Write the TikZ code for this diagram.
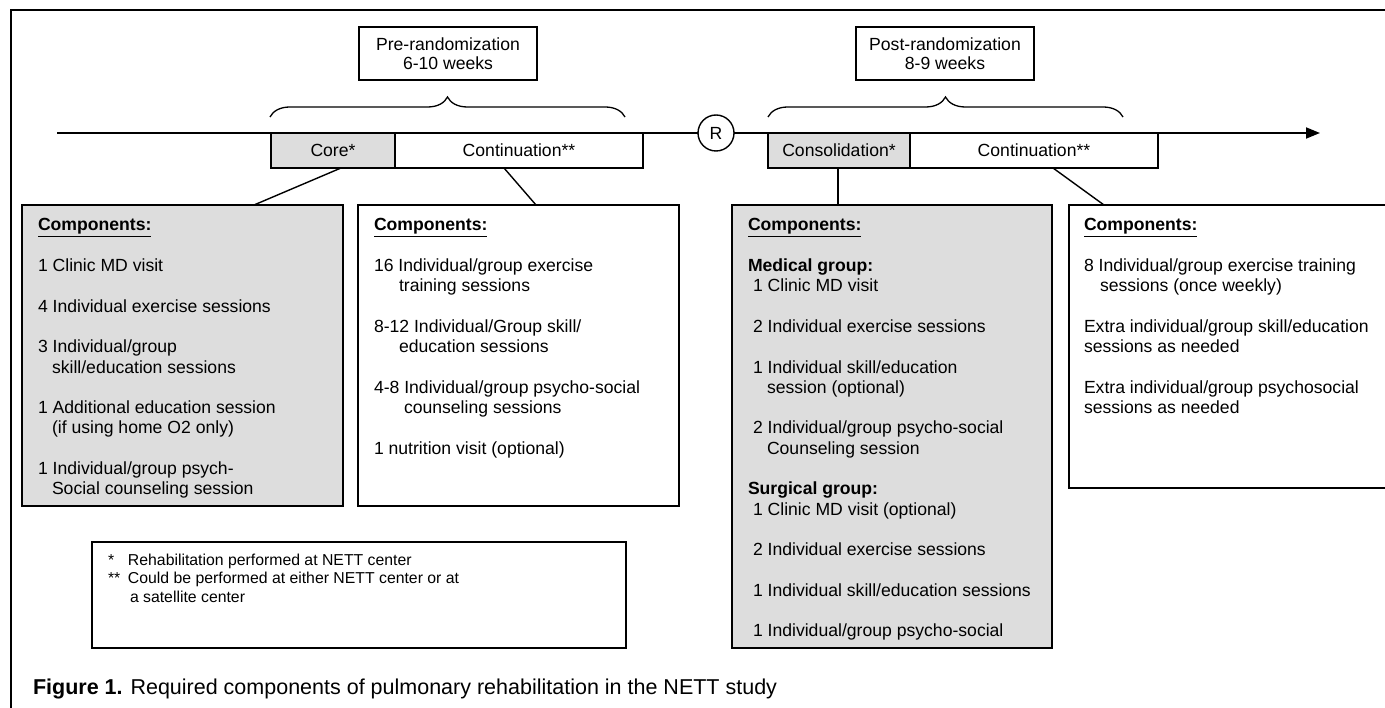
\documentclass[tikz,border=0pt]{standalone}
\usepackage{fontspec}
\setmainfont{Liberation Sans}
\usetikzlibrary{arrows.meta,decorations.pathreplacing}
\definecolor{boxgray}{RGB}{221,221,221}
\newcommand\myline[1]{\hbox{#1}}
\newcommand\blank{\hbox{}}
\newcommand\ind[2]{\hbox{\hskip#1pt #2}}
\newcommand\comphead{\myline{\underline{\textbf{Components:}}}}
\begin{document}
\begin{tikzpicture}[x=1pt,y=-1pt,
  frameline/.style={line width=2.6pt},
  tbox/.style={draw, line width=1.6pt, inner sep=0pt, outer sep=0pt, anchor=north west,
    font=\fontsize{17.6}{19.5}\selectfont, align=center},
  gbox/.style={tbox, fill=boxgray},
  txt/.style={inner sep=0pt, outer sep=0pt, anchor=base west, font=\fontsize{17.6}{20.3}\selectfont},
  conn/.style={line width=1.4pt},
  brc/.style={decorate, decoration={brace, amplitude=20pt}, line width=1.3pt},
]
\useasboundingbox (0,0) rectangle (1385,708);
% outer frame
\coordinate (f0) at (8,10);
\coordinate (f1) at (1385,10);
\coordinate (f2) at (11,708);
\draw[frameline] (f1) -- (f0 -| f2) -- (f2);

% period boxes
\node[tbox, minimum width=178pt, minimum height=53pt] (pre) at (359,27) {Pre-randomization\\6-10 weeks};
\node[tbox, minimum width=178pt, minimum height=53pt] (post) at (856,27) {Post-randomization\\8-9 weeks};

% braces
\coordinate (b1a) at (270,117); \coordinate (b1b) at (625,117);
\coordinate (b2a) at (768,117); \coordinate (b2b) at (1123,117);
\draw[brc] (b1a) -- (b1b);
\draw[brc] (b2a) -- (b2b);

% timeline
\coordinate (tl0) at (57,133);
\coordinate (tl1) at (1320,133);
\draw[line width=1.8pt, -{Triangle[length=14pt,width=11pt]}] (tl0) -- (tl1);

% phase boxes
\node[gbox, minimum width=124pt, minimum height=35pt] (core) at (271,133) {Core*};
\node[tbox, minimum width=248pt, minimum height=35pt] (cont1) at (395,133) {Continuation**};
\node[gbox, minimum width=142pt, minimum height=35pt] (cons) at (768,133) {Consolidation*};
\node[tbox, minimum width=248pt, minimum height=35pt] (cont2) at (910,133) {Continuation**};

\node[circle, draw, fill=white, line width=1.4pt, minimum size=36pt, inner sep=0pt,
  font=\fontsize{17.6}{20}\selectfont] (R) at (716,133) {R};

% component boxes
\node[gbox, minimum width=321pt, minimum height=301pt] (lbox) at (22,205) {};
\node[tbox, minimum width=321pt, minimum height=301pt] (cbox) at (358,205) {};
\node[gbox, minimum width=320pt, minimum height=443pt] (mbox) at (732,205) {};
\node[tbox, minimum width=330pt, minimum height=283pt] (rbox) at (1069,205) {};
\node[tbox, minimum width=534pt, minimum height=106pt] (fbox) at (92,542) {};

% connectors
\draw[conn] ([xshift=8pt]core.south) -- ([xshift=71.5pt]lbox.north);
\draw[conn] ([xshift=-15pt]cont1.south) -- ([xshift=17.5pt]cbox.north);
\draw[conn] ([xshift=-1pt]cons.south) -- ([xshift=-1pt]cons.south |- mbox.north);
\draw[conn] ([xshift=19pt]cont2.south) -- ([xshift=35pt]rbox.north west);

% texts
\node[txt] (ltxt) at (38,231) {\vtop{%
\comphead\blank
\myline{1 Clinic MD visit}\blank
\myline{4 Individual exercise sessions}\blank
\myline{3 Individual/group}\ind{14}{skill/education sessions}\blank
\myline{1 Additional education session}\ind{14}{(if using home O2 only)}\blank
\myline{1 Individual/group psych-}\ind{14}{Social counseling session}}};

\node[txt] (ctxt) at (374,231) {\vtop{%
\comphead\blank
\myline{16 Individual/group exercise}\ind{25}{training sessions}\blank
\myline{8-12 Individual/Group skill/}\ind{25}{education sessions}\blank
\myline{4-8 Individual/group psycho-social}\ind{30}{counseling sessions}\blank
\myline{1 nutrition visit (optional)}}};

\node[txt] (mtxt) at (748,231) {\vtop{%
\comphead\blank
\myline{\textbf{Medical group:}}
\ind{5}{1 Clinic MD visit}\blank
\ind{5}{2 Individual exercise sessions}\blank
\ind{5}{1 Individual skill/education}\ind{19}{session (optional)}\blank
\ind{5}{2 Individual/group psycho-social}\ind{19}{Counseling session}\blank
\myline{\textbf{Surgical group:}}
\ind{5}{1 Clinic MD visit (optional)}\blank
\ind{5}{2 Individual exercise sessions}\blank
\ind{5}{1 Individual skill/education sessions}\blank
\ind{5}{1 Individual/group psycho-social}}};

\node[txt] (rtxt) at (1084,231) {\vtop{%
\comphead\blank
\myline{8 Individual/group exercise training}\ind{16}{sessions (once weekly)}\blank
\myline{Extra individual/group skill/education}\myline{sessions as needed}\blank
\myline{Extra individual/group psychosocial}\myline{sessions as needed}}};

\node[txt, font=\fontsize{15.8}{19}\selectfont] (ftxt) at (108,565) {\vtop{%
\hbox{\hbox to 20pt{*\hss}Rehabilitation performed at NETT center}
\hbox{\hbox to 20pt{**\hss}Could be performed at either NETT center or at}
\ind{22}{a satellite center}}};

\node[txt, font=\fontsize{21.5}{24}\selectfont] (cap) at (33,694)
  {\textbf{Figure 1.} Required components of pulmonary rehabilitation in the NETT study};
\end{tikzpicture}
\end{document}
